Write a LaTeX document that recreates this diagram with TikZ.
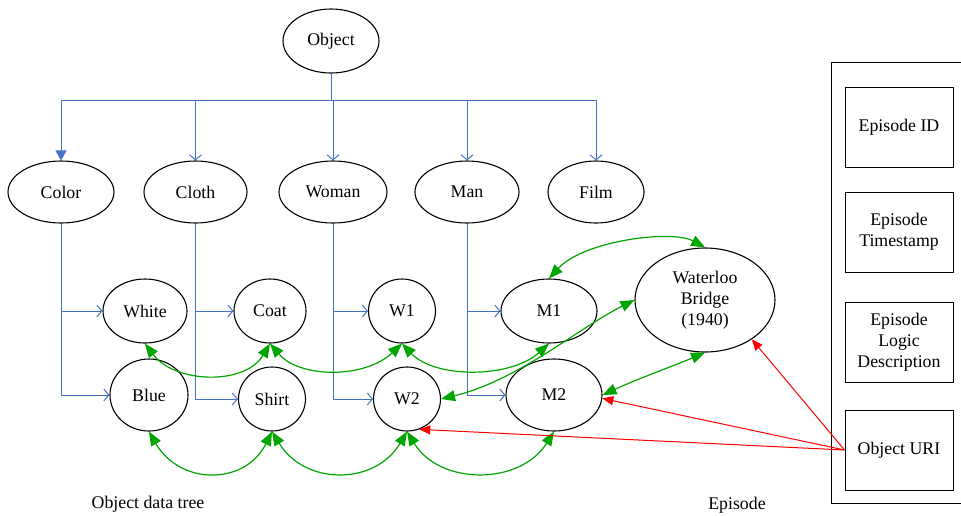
\documentclass[tikz,border=0pt]{standalone}
\usepackage{fontspec}
\setmainfont{Liberation Serif}
\usetikzlibrary{shapes.geometric,arrows.meta}
\definecolor{treeblue}{RGB}{68,114,196}
\definecolor{linkgreen}{RGB}{0,165,0}
\definecolor{urired}{RGB}{255,0,0}
\begin{document}
\begin{tikzpicture}[x=1pt,y=-1pt,
  every node/.style={font=\fontsize{17.8}{21}\selectfont},
  oval/.style={ellipse,draw,line width=1.1pt,inner sep=0pt,align=center},
  field/.style={draw,line width=1pt,minimum width=108pt,minimum height=80pt,align=center,inner sep=0pt},
  tree/.style={treeblue,line width=1pt},
  branch/.style={tree,-{Straight Barb[length=5pt,width=12pt]}},
  link/.style={linkgreen,line width=1.2pt,{Triangle[length=14pt,width=11pt]}-{Triangle[length=14pt,width=11pt]}},
  uri/.style={urired,line width=1pt,-{Triangle[length=11pt,width=9pt]}}
]
\useasboundingbox (0,0) rectangle (961,515);

% object hierarchy
\node[oval,minimum width=96pt,minimum height=64pt] (Object) at (331,41) {Object};
\node[oval,minimum width=106pt,minimum height=62pt] (Color) at (61,192) {Color};
\node[oval,minimum width=103pt,minimum height=62pt] (Cloth) at (195.5,192) {Cloth};
\node[oval,minimum width=108pt,minimum height=62pt] (Woman) at (333,192) {Woman};
\node[oval,minimum width=104pt,minimum height=62pt] (Man) at (467,192) {Man};
\node[oval,minimum width=96pt,minimum height=62pt] (Film) at (596,192) {Film};

\node[oval,minimum width=84pt,minimum height=64pt] (White) at (145,311) {White};
\node[oval,minimum width=72pt,minimum height=64pt] (Coat) at (270,311) {Coat};
\node[oval,minimum width=67pt,minimum height=64pt] (W1) at (402,311) {W1};
\node[oval,minimum width=96pt,minimum height=64pt] (M1) at (549,311) {M1};
\node[oval,minimum width=78pt,minimum height=72pt] (Blue) at (149,395) {Blue};
\node[oval,minimum width=67pt,minimum height=64pt] (Shirt) at (272,399) {Shirt};
\node[oval,minimum width=67pt,minimum height=64pt] (W2) at (407,399) {W2};
\node[oval,minimum width=96pt,minimum height=72pt] (M2) at (554,395) {M2};
\node[oval,minimum width=140pt,minimum height=104pt] (Waterloo) at (705,300) {Waterloo\\Bridge\\(1940)};

% episode record
\node[draw,line width=1pt,minimum width=150pt,minimum height=441pt,anchor=north west,inner sep=0pt] (panel) at (831,62) {};
\node[field] (EpID) at (899,127) {Episode ID};
\node[field] (EpTime) at (899,232) {Episode\\Timestamp};
\node[field] (EpLogic) at (899,342) {Episode\\Logic\\Description};
\node[field] (URI) at (899,450) {Object URI};

\node (treelabel) at (148,504) {Object data tree};
\node (eplabel) at (737,505) {Episode};

% tree connectors
\coordinate (bus) at (331,100);
\draw[tree] (Object.south) -- (bus);
\draw[tree] (Color.north |- bus) -- (Film.north |- bus);
\draw[tree,-{Triangle[length=10pt,width=11pt]}] (Color.north |- bus) -- (Color.north);
\foreach \n in {Cloth,Woman,Man,Film} \draw[branch] (\n.north |- bus) -- (\n.north);

\draw[branch] (Color.south) |- (Blue.west);
\draw[branch] (Color.south |- White.west) -- (White.west);
\draw[branch] (Cloth.south) |- (Shirt.west);
\draw[branch] (Cloth.south |- Coat.west) -- (Coat.west);
\draw[branch] (Woman.south) |- (W2.west);
\draw[branch] (Woman.south |- W1.west) -- (W1.west);
\draw[branch] (Man.south) |- (M2.west);
\draw[branch] (Man.south |- M1.west) -- (M1.west);

% relations between instances
\draw[link] (White.south) .. controls +(30,40) and +(-25,42) .. (Coat.south);
\draw[link] (Coat.south) .. controls +(30,35) and +(-37,35) .. (W1.south);
\draw[link] (W1.south) .. controls +(33,35) and +(-39,35) .. (M1.south);
\draw[link] (Blue.south) .. controls +(31,54) and +(-27,54) .. (Shirt.south);
\draw[link] (Shirt.south) .. controls +(33,54) and +(-32,54) .. (W2.south);
\draw[link] (W2.south) .. controls +(33,54) and +(-34,54) .. (M2.south);
\draw[link] (M1.north) .. controls +(35,-38) and +(-33,-18) .. (Waterloo.north);
\draw[link] (W2.east) .. controls +(78,-19) and +(-56,28) .. (Waterloo.west);
\draw[link] (M2.east) .. controls +(37,-17) and +(-33,14) .. (Waterloo.south);

% object references
\draw[uri] (URI.west) -- (Waterloo.-40);
\draw[uri] (URI.west) -- (M2.-4);
\draw[uri] (URI.west) -- (W2.-68);
\end{tikzpicture}
\end{document}
